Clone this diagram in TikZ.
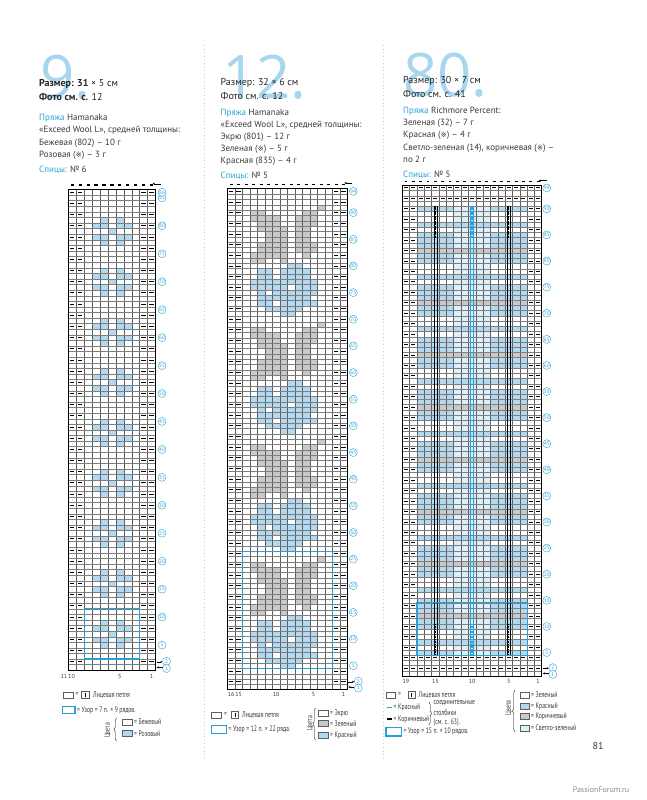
\documentclass[tikz,border=0pt]{standalone}
\usepackage{fontspec}
\setmainfont{PT Sans}
\newfontfamily\symfont{DejaVu Sans}
\newfontfamily\condfont{PT Sans}[FakeStretch=0.72]
\newfontfamily\bigfont{Open Sans}
\usetikzlibrary{arrows.meta,decorations.pathreplacing}
\definecolor{accent}{HTML}{29A3DA}
\definecolor{bignum}{HTML}{A8D6EE}
\definecolor{cblue}{HTML}{B2D9EF}
\definecolor{cgray}{HTML}{C9C9C9}
\definecolor{clight}{HTML}{DDEFF8}
\definecolor{gline}{HTML}{5E5E5E}
\definecolor{txt}{HTML}{3A3A3A}
\definecolor{boxblue}{HTML}{2A9FD6}
\newcommand\kspan[4]{\fill[#4] ({\XO+(#1)*\WW},{\YB-(#3)*\HH}) rectangle ({\XO+(#2+1)*\WW},{\YB-(#3-1)*\HH});}
\newcommand\kspanc[4]{\pgfmathtruncatemacro\rowv{#3}\ifnum\rowv<91 \kspan{#1}{#2}{\rowv}{#4}\fi}
\newcommand\kdash[2]{\draw[dashmark] ({\XO+(#1+0.22)*\WW},{\YB-(#2-0.5)*\HH}) -- ({\XO+(#1+0.78)*\WW},{\YB-(#2-0.5)*\HH});}
\newcommand\kgrid{%
  \foreach \ii in {1,...,\NCm} \draw[vline] ({\XO+\ii*\WW},{\YB}) -- ({\XO+\ii*\WW},{\YB-\NR*\HH});
  \foreach \rr in {1,...,\NRm} \draw[hline] ({\XO},{\YB-\rr*\HH}) -- ({\XO+\NC*\WW},{\YB-\rr*\HH});
  \draw[frame] (\XO,\YB) rectangle ({\XO+\NC*\WW},{\YB-\NR*\HH});
}
\newcommand\klab[1]{\node[rowlab] at ({\XO+\NC*\WW+\LOFF},{\YB-(#1-0.5)*\HH}) {#1};}
\newcommand\ktop{%
  \foreach \ii in {0,...,\NCm} \draw[bomark] ({\XO+(\ii+0.3)*\WW},{\YB-\NR*\HH-\BOFF}) -- ({\XO+(\ii+0.7)*\WW},{\YB-\NR*\HH-\BOFF});
  \draw[-{Stealth[length=2.5pt,width=2.2pt]},line width=0.4pt] ({\XO+\NC*\WW+5},{\YB-\NR*\HH-\BOFF-1.2}) -- ({\XO+\NC*\WW-3},{\YB-\NR*\HH-\BOFF-1.2});
}
\newcommand\kbottom{%
  \draw[-{Stealth[length=2.2pt,width=2pt]},line width=0.4pt] ({\XO+\NC*\WW+1},{\YB-1.5*\HH}) -- ({\XO+\NC*\WW+7},{\YB-1.5*\HH});
  \draw[-{Stealth[length=2.2pt,width=2pt]},line width=0.4pt] ({\XO+\NC*\WW+7},{\YB-0.5*\HH}) -- ({\XO+\NC*\WW+1},{\YB-0.5*\HH});
  \node[rowlab] at ({\XO+\NC*\WW+11},{\YB-1.6*\HH}) {2};
  \node[rowlab] at ({\XO+\NC*\WW+11},{\YB-0.3*\HH}) {1};
}
\newcommand\kcol[2]{\node[colnum] at ({\XO+(#1+0.5)*\WW},{\YB+\CNOFF}) {#2};}
\begin{document}
\begin{tikzpicture}[x=1pt,y=-1pt,
  vline/.style={gline,line width=0.4pt},
  hline/.style={gline!80,line width=0.3pt},
  frame/.style={black,line width=0.6pt},
  dashmark/.style={black,line width=0.9pt},
  bomark/.style={black,line width=1.3pt},
  rowlab/.style={circle,draw=accent,fill=white,line width=0.4pt,inner sep=0pt,minimum size=8pt,text=accent,font=\fontsize{5.2}{5.5}\selectfont},
  colnum/.style={font=\fontsize{6}{6}\selectfont,text=txt},
  patbox/.style={boxblue,line width=1.1pt},
  tx/.style={anchor=base west,inner sep=0pt,text=txt,font=\fontsize{9}{10}\selectfont},
  ttl/.style={anchor=base west,inner sep=0pt,text=black!85,font=\fontsize{10}{12}\selectfont},
  bignumst/.style={anchor=base west,inner sep=0pt,text=bignum,font=\bigfont\fontsize{60}{60}\selectfont},
  lg/.style={anchor=west,inner sep=0pt,text=txt,font=\condfont\fontsize{8}{9}\selectfont},
  lgbox/.style={draw=gline,line width=0.4pt},
  sepline/.style={bignum,line width=1pt,dash pattern=on 1pt off 2.6pt}
]
\useasboundingbox (0,0) rectangle (646,800);
\fill[white] (0,0) rectangle (646,800);
% separators
\draw[sepline] (204,45) -- (204,760);
\draw[sepline] (383,45) -- (383,760);
% big numbers
\node[bignumst] at (40,98) {9.};
\node[bignumst] at (222,98) {12.};
\node[bignumst] at (403,96) {80.};
% ---- texts chart 1
\node[ttl] at (39,86) {\textbf{Размер: 31} × 5 см};
\node[ttl] at (39,100.5) {\textbf{Фото см. с.} 12};
\node[tx] at (39,120) {\textcolor{accent}{Пряжа} Hamanaka};
\node[tx] at (39,132.5) {«Exceed Wool L», средней толщины:};
\node[tx] at (39,145) {Бежевая (802) – 10 г};
\node[tx] at (39,157.5) {Розовая ({\symfont\fontsize{7.5}{8}\selectfont ※}) – 3 г};
\node[tx] at (39,172) {\textcolor{accent}{Спицы:} № 6};
% ---- texts chart 2
\node[ttl] at (220.5,85.5) {Размер: 32 × 6 см};
\node[ttl] at (220.5,99.5) {Фото см. с. 12};
\node[tx] at (220.5,115) {\textcolor{accent}{Пряжа} Hamanaka};
\node[tx] at (220.5,127) {«Exceed Wool L», средней толщины:};
\node[tx] at (220.5,139) {Экрю (801) – 12 г};
\node[tx] at (220.5,151) {Зеленая ({\symfont\fontsize{7.5}{8}\selectfont ※}) – 5 г};
\node[tx] at (220.5,163.5) {Красная (835) – 4 г};
\node[tx] at (220.5,178) {\textcolor{accent}{Спицы:} № 5};
% ---- texts chart 3
\node[ttl] at (403,84) {Размер: 30 × 7 см};
\node[ttl] at (403,97.5) {Фото см. с. 41};
\node[tx] at (403,113.5) {\textcolor{accent}{Пряжа} Richmore Percent:};
\node[tx] at (403,125.5) {Зеленая (32) – 7 г};
\node[tx] at (403,137.5) {Красная ({\symfont\fontsize{7.5}{8}\selectfont ※}) – 4 г};
\node[tx] at (403,150) {Светло-зеленая (14), коричневая ({\symfont\fontsize{7.5}{8}\selectfont ※}) –};
\node[tx] at (403,162) {по 2 г};
\node[tx] at (403,177.5) {\textcolor{accent}{Спицы:} № 5};
% ================= CHART 1
\def\XO{68.3}\def\WW{7.93}\def\YB{670.2}\def\HH{5.59}\def\NC{11}\def\NCm{10}\def\NR{86}\def\NRm{85}\def\LOFF{6.5}\def\BOFF{4.5}\def\CNOFF{6.5}
\foreach \m in {0,...,8}{
  \pgfmathtruncatemacro\c{7+9*\m}
  \kspan{4}{4}{\c+2}{cblue}\kspan{6}{6}{\c+2}{cblue}
  \kspan{3}{4}{\c+1}{cblue}\kspan{6}{7}{\c+1}{cblue}
  \kspan{5}{5}{\c}{cblue}
  \kspan{3}{4}{\c-1}{cblue}\kspan{6}{7}{\c-1}{cblue}
  \kspan{4}{4}{\c-2}{cblue}\kspan{6}{6}{\c-2}{cblue}
}
\kgrid
\foreach \r in {2,4,...,86}{\kdash{0}{\r}\kdash{1}{\r}\kdash{9}{\r}\kdash{10}{\r}}
\draw[patbox] ({\XO+2*\WW},{\YB-11*\HH}) rectangle ({\XO+9*\WW},{\YB-2*\HH});
\ktop
\foreach \r in {5,10,...,85}{\klab{\r}}
\klab{86}
\kbottom
\node[colnum] at (64,676.7) {11};
\node[colnum] at (71.5,676.7) {10};
\kcol{6}{5}\kcol{10}{1}
% ================= CHART 2
\def\XO{227.3}\def\WW{7.5}\def\YB{689.7}\def\HH{5.33}\def\NC{16}\def\NCm{15}\def\NR{94}\def\NRm{93}\def\LOFF{6}\def\BOFF{4.5}\def\CNOFF{5}
\foreach \m in {0,...,3}{
  \pgfmathtruncatemacro\b{4+22*\m}
  % flower
  \kspan{7}{8}{\b+1}{cblue}
  \kspan{5}{9}{\b+2}{cblue}
  \kspan{4}{5}{\b+3}{cblue}\kspan{7}{11}{\b+3}{cblue}
  \kspan{4}{10}{\b+4}{cblue}
  \kspan{4}{4}{\b+5}{cblue}\kspan{6}{11}{\b+5}{cblue}
  \kspan{3}{7}{\b+6}{cblue}\kspan{9}{11}{\b+6}{cblue}
  \kspan{3}{11}{\b+7}{cblue}
  \kspan{4}{5}{\b+8}{cblue}\kspan{7}{10}{\b+8}{cblue}
  \kspan{4}{5}{\b+9}{cblue}\kspan{7}{10}{\b+9}{cblue}
  \kspan{8}{9}{\b+10}{cblue}
  % leaves
  \kspan{3}{4}{\b+11}{cgray}\kspan{7}{7}{\b+11}{cgray}
  \kspan{3}{7}{\b+12}{cgray}\kspan{10}{10}{\b+12}{cgray}
  \kspan{4}{7}{\b+13}{cgray}\kspan{9}{11}{\b+13}{cgray}
  \kspan{4}{7}{\b+14}{cgray}\kspan{9}{11}{\b+14}{cgray}
  \kspan{5}{7}{\b+15}{cgray}\kspan{9}{10}{\b+15}{cgray}
  \kspan{5}{7}{\b+16}{cgray}\kspan{9}{10}{\b+16}{cgray}
  \kspan{4}{7}{\b+17}{cgray}\kspan{9}{10}{\b+17}{cgray}
  \kspan{4}{6}{\b+18}{cgray}\kspan{9}{11}{\b+18}{cgray}
  \kspan{3}{6}{\b+19}{cgray}\kspan{9}{11}{\b+19}{cgray}
  \kspan{3}{4}{\b+20}{cgray}\kspan{10}{11}{\b+20}{cgray}
  \kspan{12}{12}{\b+21}{cgray}
}
\kgrid
\foreach \r in {2,4,...,94}{\kdash{0}{\r}\kdash{1}{\r}\kdash{14}{\r}\kdash{15}{\r}}
\draw[patbox] ({\XO+2*\WW},{\YB-26*\HH}) rectangle ({\XO+14*\WW},{\YB-4*\HH});
\ktop
\foreach \r in {5,10,...,90}{\klab{\r}}
\klab{94}
\kbottom
\kcol{0}{16}\kcol{1}{15}\kcol{6}{10}\kcol{11}{5}\kcol{15}{1}
% ================= CHART 3
\def\XO{402.3}\def\WW{7.34}\def\YB{676}\def\HH{5.22}\def\NC{19}\def\NCm{18}\def\NR{94}\def\NRm{93}\def\LOFF{5}\def\BOFF{3.5}\def\CNOFF{5.7}
\foreach \m in {0,...,8}{
  \pgfmathtruncatemacro\b{5+10*\m}
  \foreach \p in {0,5,6,8,9}{
    \kspanc{2}{6}{\b+\p}{cblue}\kspanc{7}{11}{\b+\p}{clight}\kspanc{12}{16}{\b+\p}{cblue}
  }
  \foreach \p in {1,3,4}{\kspanc{7}{11}{\b+\p}{clight}}
  \kspanc{2}{16}{\b+2}{cblue}
  \kspanc{2}{16}{\b+7}{cgray}
}
\kgrid
\foreach \r in {2,4,...,94}{\kdash{0}{\r}\kdash{1}{\r}\kdash{17}{\r}\kdash{18}{\r}}
\foreach \r in {2,4,92,94}{\foreach \cc in {2,...,16}{\kdash{\cc}{\r}}}
\foreach \cc/\col in {4/black,9/accent,14/black}{
  \draw[\col,line width=0.4pt] ({\XO+(\cc+0.5)*\WW-1.6},{\YB-4*\HH}) -- ({\XO+(\cc+0.5)*\WW-1.6},{\YB-90*\HH});
  \draw[\col,line width=0.4pt] ({\XO+(\cc+0.5)*\WW+1.6},{\YB-4*\HH}) -- ({\XO+(\cc+0.5)*\WW+1.6},{\YB-90*\HH});
  \draw[\col,line width=1.4pt,dash pattern=on 1.6pt off 0.9pt] ({\XO+(\cc+0.5)*\WW},{\YB-4*\HH}) -- ({\XO+(\cc+0.5)*\WW},{\YB-10*\HH});
  \draw[\col,line width=1.4pt,dash pattern=on 1.6pt off 0.9pt] ({\XO+(\cc+0.5)*\WW},{\YB-84*\HH}) -- ({\XO+(\cc+0.5)*\WW},{\YB-90*\HH});
}
\draw[patbox] ({\XO+2*\WW},{\YB-14*\HH}) rectangle ({\XO+17*\WW},{\YB-4*\HH});
\ktop
\foreach \r in {5,10,...,90}{\klab{\r}}
\klab{94}
\kbottom
\kcol{0}{19}\kcol{4}{15}\kcol{9}{10}\kcol{14}{5}\kcol{18}{1}
% ================= LEGENDS
% chart 1
\draw[lgbox] (63,692) rectangle (73,698.5);
\node[lg] at (75.5,695) {=};
\draw[lgbox] (81.5,691.5) rectangle (89,698.5); \draw[line width=0.6pt] (85.25,693) -- (85.25,697);
\node[lg] at (93,695) {Лицевая петля};
\draw[patbox] (62.5,706.3) rectangle (75,713.7);
\node[lg] at (77,710) {= Узор = 7 п. × 9 рядов.};
\node[lg,anchor=center,rotate=90] at (107.5,730.5) {Цвета};
\draw[line width=0.4pt,decorate,decoration={brace,amplitude=2.5pt}] (116.5,741) -- (116.5,718);
\draw[lgbox] (122,719) rectangle (132,725); \node[lg] at (134,722) {= Бежевый};
\draw[lgbox,fill=cblue] (122,730.5) rectangle (132,736.5); \node[lg] at (134,733.5) {= Розовый};
% chart 2
\draw[lgbox] (211.5,712) rectangle (221.5,718);
\node[lg] at (224,715) {=};
\draw[lgbox] (231.5,711.5) rectangle (238.5,718.5); \draw[line width=0.6pt] (235,713) -- (235,717);
\node[lg] at (242,715) {Лицевая петля};
\draw[patbox] (211.5,725.3) rectangle (226.5,733.5);
\node[lg] at (228.5,729.4) {= Узор = 12 п. × 22 ряда.};
\node[lg,anchor=center,rotate=90] at (310,723.5) {Цвета};
\draw[line width=0.4pt,decorate,decoration={brace,amplitude=2.5pt}] (315.5,740) -- (315.5,708);
\draw[lgbox] (318.5,710.5) rectangle (328,716.5); \node[lg] at (330,713.5) {= Экрю};
\draw[lgbox,fill=cgray] (318.5,720.5) rectangle (328,726.5); \node[lg] at (330,723.5) {= Зеленый};
\draw[lgbox,fill=cblue] (318.5,732) rectangle (328,738); \node[lg] at (330,735) {= Красный};
% chart 3
\draw[lgbox] (386,692) rectangle (395.5,698);
\node[lg] at (398,695) {=};
\draw[lgbox] (408,691.5) rectangle (415,698.5); \draw[line width=0.6pt] (411.5,693) -- (411.5,697);
\node[lg] at (418.5,695) {Лицевая петля};
\draw[accent,line width=1.8pt] (386.5,707.5) -- (391.5,707.5);
\node[lg] at (393.5,707.5) {= Красный};
\draw[black,line width=1.8pt] (386.5,719) -- (391.5,719);
\node[lg] at (393.5,719) {= Коричневый};
\draw[line width=0.4pt,decorate,decoration={brace,amplitude=2.5pt}] (429,702) -- (429,725);
\node[lg] at (433.5,702.5) {соединительные};
\node[lg] at (433.5,712.5) {столбики};
\node[lg] at (433.5,722.5) {(см. с. 63).};
\draw[patbox] (386,727.8) rectangle (401.5,736);
\node[lg] at (403.5,731.8) {= Узор = 15 п. × 10 рядов.};
\node[lg,anchor=center,rotate=90] at (508.5,708) {Цвета};
\draw[line width=0.4pt,decorate,decoration={brace,amplitude=2.5pt}] (515,732) -- (515,690);
\draw[lgbox] (520,692) rectangle (529,698); \node[lg] at (531,695) {= Зеленый};
\draw[lgbox,fill=cblue] (520,703.5) rectangle (529,709.5); \node[lg] at (531,706.5) {= Красный};
\draw[lgbox,fill=cgray] (520,713.5) rectangle (529,719.5); \node[lg] at (531,716.5) {= Коричневый};
\draw[lgbox,fill=clight] (520,725) rectangle (529,731); \node[lg] at (531,728) {= Светло-зеленый};
% page number & watermark
\node[anchor=center,text=txt,font=\fontsize{10}{12}\selectfont] at (598,746) {81};
\node[anchor=center,text=black!45,font=\fontsize{8}{9}\selectfont] at (601,790) {PassionForum.ru};
\end{tikzpicture}
\end{document}
